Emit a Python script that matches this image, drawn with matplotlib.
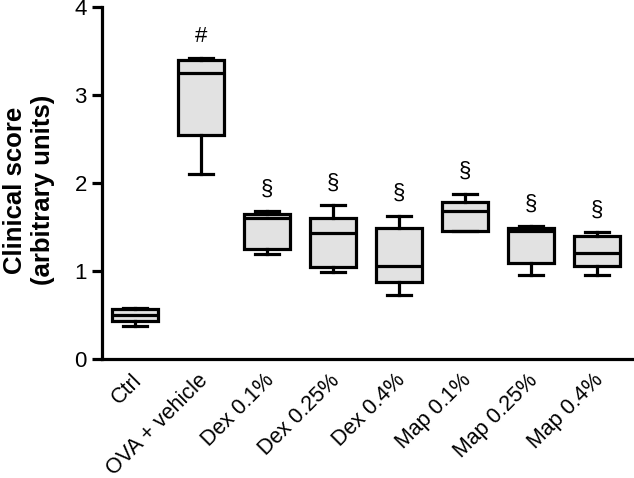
import matplotlib
matplotlib.use("Agg")
import matplotlib.pyplot as plt
import matplotlib.transforms as mtransforms

categories = ['Ctrl', 'OVA + vehicle', 'Dex 0.1%', 'Dex 0.25%', 'Dex 0.4%',
              'Map 0.1%', 'Map 0.25%', 'Map 0.4%']
mins = [0.38, 2.10, 1.19, 0.99, 0.73, 1.45, 0.955, 0.95]
q1s = [0.43, 2.545, 1.245, 1.05, 0.87, 1.455, 1.09, 1.06]
medians = [0.50, 3.25, 1.60, 1.43, 1.06, 1.685, 1.45, 1.20]
q3s = [0.565, 3.40, 1.65, 1.60, 1.485, 1.79, 1.485, 1.40]
maxs = [0.58, 3.42, 1.685, 1.75, 1.63, 1.88, 1.51, 1.445]
marks = ['', '#', '§', '§', '§', '§', '§', '§']
yticks = [0, 1, 2, 3, 4]

plt.rcParams['font.family'] = ['Liberation Sans', 'DejaVu Sans']

fig = plt.figure(figsize=(6.34, 4.78), dpi=100)
ax = fig.add_axes([0.161, 0.249, 0.839, 0.736])

stats = []
for i, c in enumerate(categories):
    stats.append(dict(label=c, whislo=mins[i], q1=q1s[i], med=medians[i],
                      q3=q3s[i], whishi=maxs[i], fliers=[]))

lw = 2.3
ax.bxp(stats, positions=range(len(categories)), widths=0.7, patch_artist=True,
       showfliers=False,
       boxprops=dict(facecolor='#e2e2e2', edgecolor='black', linewidth=lw),
       medianprops=dict(color='black', linewidth=lw),
       whiskerprops=dict(color='black', linewidth=lw),
       capprops=dict(color='black', linewidth=lw),
       capwidths=0.36)

for i, m in enumerate(marks):
    if m:
        ax.text(i, maxs[i] + 0.25, m, ha='center', va='center', fontsize=16)

ax.set_xlim(-0.5, 7.56)
ax.set_ylim(0, 4)
ax.set_yticks(yticks)
ax.set_yticklabels([str(t) for t in yticks], fontsize=16)
ax.set_xticks(range(len(categories)))
ax.set_xticklabels(categories, rotation=45, ha='right', va='top',
                   rotation_mode='anchor', fontsize=15.5)
ax.tick_params(axis='x', length=0, pad=8)
ax.tick_params(axis='y', length=7, width=lw, pad=4)
shift = mtransforms.ScaledTranslation(-4 / 100, 0, fig.dpi_scale_trans)
for lab in ax.get_xticklabels():
    lab.set_transform(lab.get_transform() + shift)

for s in ['top', 'right']:
    ax.spines[s].set_visible(False)
for s in ['left', 'bottom']:
    ax.spines[s].set_linewidth(lw)

ax.set_ylabel('Clinical score\n(arbitrary units)', fontsize=18.5,
              fontweight='bold', linespacing=1.25)
ax.yaxis.set_label_coords(-0.088, 0.48)

fig.savefig('out.png', dpi=100)
